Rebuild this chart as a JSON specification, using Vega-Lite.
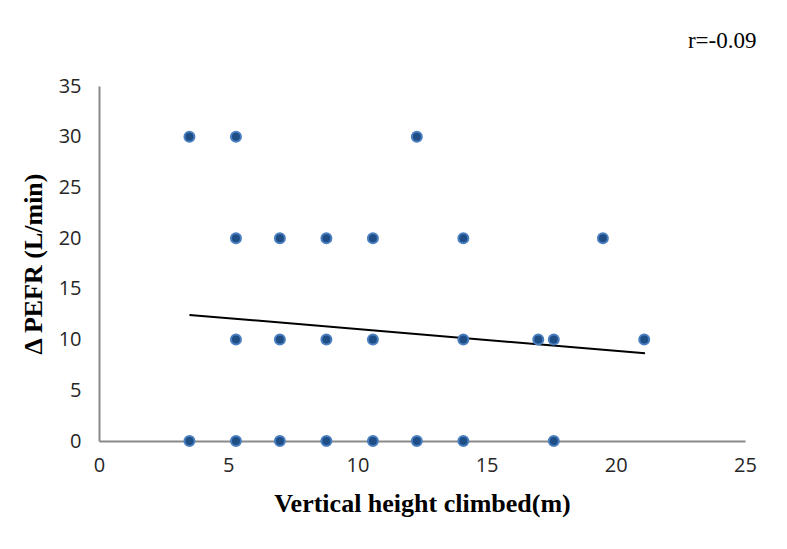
{
  "$schema": "https://vega.github.io/schema/vega-lite/v6.json",
  "width": 646,
  "height": 355,
  "autosize": {"type": "none"},
  "padding": {"left": 99, "top": 86, "right": 42, "bottom": 108},
  "background": "white",
  "config": {"view": {"stroke": null}},
  "title": {
    "text": "r=-0.09",
    "anchor": "end",
    "font": "Liberation Serif",
    "fontSize": 23,
    "fontWeight": "normal",
    "color": "#000000",
    "offset": 23,
    "dx": 0
  },
  "datasets": {
    "points": [
      {"height": 3.5, "pefr": 30},
      {"height": 5.3, "pefr": 30},
      {"height": 12.3, "pefr": 30},
      {"height": 5.3, "pefr": 20},
      {"height": 7.0, "pefr": 20},
      {"height": 8.8, "pefr": 20},
      {"height": 10.6, "pefr": 20},
      {"height": 14.1, "pefr": 20},
      {"height": 19.5, "pefr": 20},
      {"height": 5.3, "pefr": 10},
      {"height": 7.0, "pefr": 10},
      {"height": 8.8, "pefr": 10},
      {"height": 10.6, "pefr": 10},
      {"height": 14.1, "pefr": 10},
      {"height": 17.0, "pefr": 10},
      {"height": 17.6, "pefr": 10},
      {"height": 21.1, "pefr": 10},
      {"height": 3.5, "pefr": 0},
      {"height": 5.3, "pefr": 0},
      {"height": 7.0, "pefr": 0},
      {"height": 8.8, "pefr": 0},
      {"height": 10.6, "pefr": 0},
      {"height": 12.3, "pefr": 0},
      {"height": 14.1, "pefr": 0},
      {"height": 17.6, "pefr": 0}
    ],
    "trend": [
      {"height": 3.5, "pefr": 12.43},
      {"height": 21.13, "pefr": 8.65}
    ]
  },
  "layer": [
    {
      "data": {"name": "trend"},
      "mark": {"type": "line", "color": "#000000", "strokeWidth": 2},
      "encoding": {
        "x": {
          "field": "height",
          "type": "quantitative",
          "scale": {"domain": [0, 25], "nice": false, "zero": false},
          "axis": {
            "title": "Vertical height climbed(m)",
            "values": [0, 5, 10, 15, 20, 25],
            "grid": false,
            "ticks": false,
            "labelFlush": false,
            "domainColor": "#898989",
            "domainWidth": 2,
            "labelFont": "Open Sans",
            "labelFontSize": 20,
            "labelColor": "#262626",
            "labelPadding": 14,
            "titleFont": "Liberation Serif",
            "titleFontSize": 26,
            "titleFontWeight": "bold",
            "titleColor": "#000000",
            "titlePadding": 15
          }
        },
        "y": {
          "field": "pefr",
          "type": "quantitative",
          "scale": {"domain": [0, 35], "nice": false, "zero": false},
          "axis": {
            "title": "Δ PEFR (L/min)",
            "values": [0, 5, 10, 15, 20, 25, 30, 35],
            "grid": false,
            "ticks": false,
            "labelFlush": false,
            "domainColor": "#898989",
            "domainWidth": 2,
            "labelFont": "Open Sans",
            "labelFontSize": 20,
            "labelColor": "#262626",
            "labelPadding": 18,
            "titleFont": "Liberation Serif",
            "titleFontSize": 26,
            "titleFontWeight": "bold",
            "titleColor": "#000000",
            "titlePadding": 12
          }
        }
      }
    },
    {
      "data": {"name": "points"},
      "mark": {"type": "point", "filled": true, "fill": "#1f4e87", "stroke": "#4a7fc0", "strokeWidth": 2, "size": 100, "opacity": 1},
      "encoding": {
        "x": {"field": "height", "type": "quantitative"},
        "y": {"field": "pefr", "type": "quantitative"}
      }
    }
  ]
}
